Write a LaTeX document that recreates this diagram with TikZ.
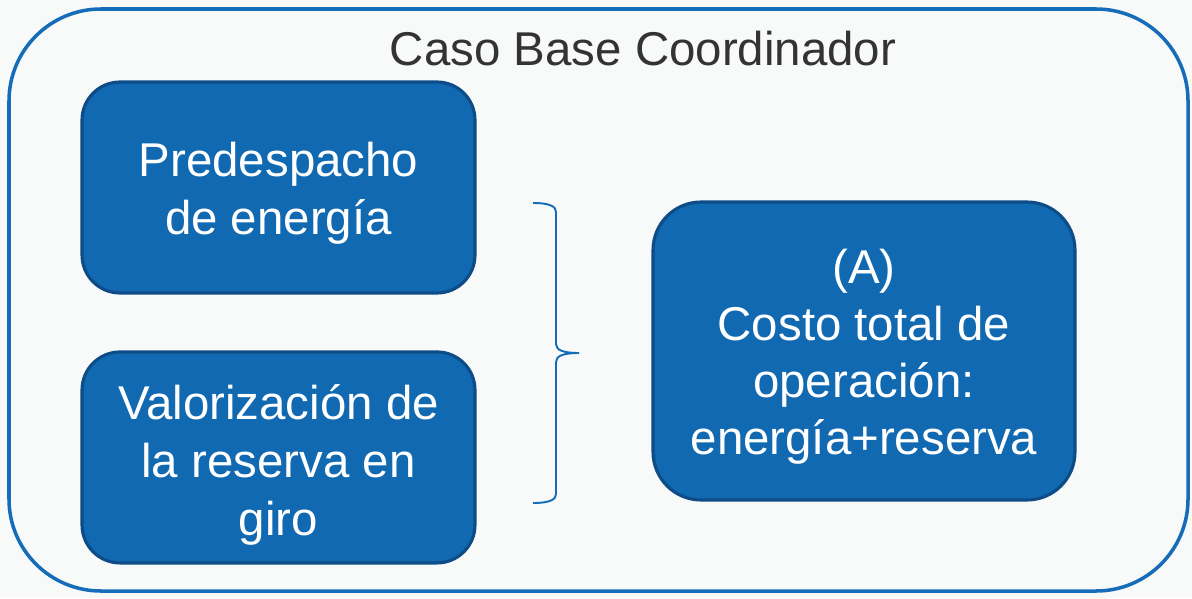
\documentclass[tikz,border=0pt]{standalone}
\usepackage{fontspec}
\setmainfont{Liberation Sans}
\usetikzlibrary{positioning}

\definecolor{paper}{RGB}{248,249,249}
\definecolor{frameblue}{RGB}{21,108,184}
\definecolor{boxfill}{RGB}{16,105,177}
\definecolor{boxedge}{RGB}{13,76,134}
\definecolor{titlegray}{RGB}{51,51,51}

\begin{document}
\begin{tikzpicture}[x=0.02cm, y=-0.02cm, node distance=5.4cm, on grid,
    box/.style={draw=boxedge, fill=boxfill, line width=1.8pt, text=white, align=center,
      font=\fontsize{27}{33}\selectfont, rounded corners=0.76cm,
      minimum width=7.86cm, minimum height=4.22cm, inner sep=0pt},
    brace line/.style={frameblue, line width=1.1pt}]
    % Background and frame
    \fill[paper] (0,0) rectangle (1192,598);
    \draw[frameblue, line width=2pt, rounded corners=1.84cm] (9,9) rectangle (1188,591);
    \node[text=titlegray, font=\fontsize{27}{33}\selectfont] (title) at (643,49) {Caso Base Coordinador};

    % Boxes
    \node[box, text height=59.6pt] (pre) at (278.5,187.5) {Predespacho\\de energía};
    \node[box, text height=94.8pt, below=of pre] (res) {Valorización de\\la reserva en\\giro};
    \node[box, minimum width=8.44cm, minimum height=5.96cm, rounded corners=0.96cm,
      text height=123.1pt, font=\fontsize{27}{32.3}\selectfont] (cost) at (864,351)
      {(A)\\Costo total de\\operación:\\energía+reserva};

    % Brace
    \coordinate (braceTop) at (533,203);
    \coordinate (braceTip) at (579,353);
    \coordinate (braceBot) at (533,503);
    \draw[brace line] (braceTop) .. controls +(18,0) and +(0,-5) .. ++(23,9)
        -- ++(0,132) .. controls +(0,6) and +(-16,0) .. (braceTip)
        .. controls +(-16,0) and +(0,-6) .. ++(-23,9)
        -- ++(0,132) .. controls +(0,5) and +(18,0) .. (braceBot);
\end{tikzpicture}
\end{document}
